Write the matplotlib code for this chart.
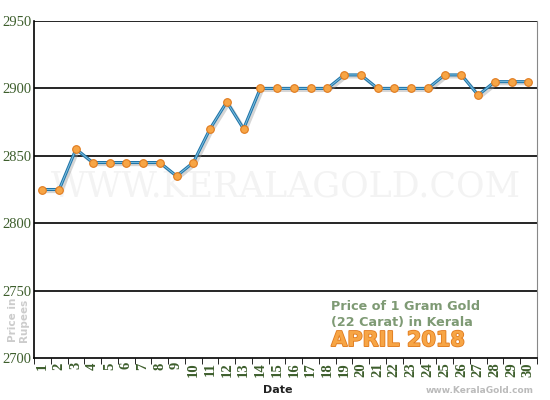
import matplotlib.pyplot as plt
import matplotlib.patheffects as pe

days = list(range(1, 31))
prices = [2825, 2825, 2855, 2845, 2845, 2845, 2845, 2845, 2835, 2845,
          2870, 2890, 2870, 2900, 2900, 2900, 2900, 2900, 2910, 2910,
          2900, 2900, 2900, 2900, 2910, 2910, 2895, 2905, 2905, 2905]
y_ticks = [2700, 2750, 2800, 2850, 2900, 2950]

green = '#3d5e2c'

fig = plt.figure(figsize=(5.5, 4), dpi=100)
ax = fig.add_axes([0.062, 0.105, 0.914, 0.8425])

# watermark
ax.text(0.5, 0.51, 'WWW.KERALAGOLD.COM', transform=ax.transAxes, ha='center', va='center',
        fontsize=25, family='DejaVu Serif', color='#f3f3f3', zorder=0)

for y in y_ticks[1:]:
    ax.axhline(y, color='black', lw=1.2, zorder=1)

shadow = [pe.SimpleLineShadow(offset=(1.5, -1.5), shadow_color='#999999', alpha=0.4), pe.Normal()]
ax.plot(days, prices, '-', color='#1f74a8', lw=2.2, zorder=3, path_effects=shadow)
ax.plot(days, prices, '-', color='#7fc0e0', lw=0.7, zorder=3)
ax.plot(days, prices, 'o', color='#f7a545', mec='#e07a1e', mew=0.8, ms=5.5, zorder=4)

ax.set_xlim(0.5, 30.5)
ax.set_ylim(2700, 2950)
ax.set_yticks(y_ticks)
ax.set_yticklabels([str(v) for v in y_ticks], family='Liberation Serif', color=green, fontsize=10.5)
ax.set_xticks(days)
ax.set_xticklabels([str(d) for d in days], rotation=90, family='Liberation Serif',
                   fontweight='bold', color=green, fontsize=10.5)
ax.set_xticks([d + 0.5 for d in range(0, 31)], minor=True)
ax.tick_params(axis='x', which='major', length=0, pad=3)
ax.tick_params(axis='x', which='minor', length=4, color='black', direction='out')
ax.tick_params(axis='y', length=0, pad=2)

ax.spines['top'].set_visible(False)
ax.spines['right'].set_color('#888888')
ax.spines['left'].set_color('black')
ax.spines['bottom'].set_color('black')
ax.spines['left'].set_linewidth(1.2)
ax.spines['bottom'].set_linewidth(1.2)

fig.text(0.505, 0.012, 'Date', ha='center', va='bottom', fontsize=8, fontweight='bold', color='#222222')
fig.text(0.015, 0.2, 'Price in\nRupees', rotation=90, ha='left', va='center', fontsize=7.5,
         fontweight='bold', color='#cccccc', linespacing=1.1)

ax.text(0.591, 0.172, 'Price of 1 Gram Gold\n(22 Carat) in Kerala', transform=ax.transAxes,
        ha='left', va='top', fontsize=9.2, fontweight='bold', color='#7e9a74', linespacing=1.25)
ax.text(0.591, 0.053, 'APRIL 2018', transform=ax.transAxes, ha='left', va='center', fontsize=15,
        fontweight='bold', color='#f7a545',
        path_effects=[pe.withStroke(linewidth=1.2, foreground='#e07a1e')])
fig.text(0.97, 0.012, 'www.KeralaGold.com', ha='right', va='bottom', fontsize=6.5,
         fontweight='bold', color='#bbbbbb')

fig.savefig('out.png', dpi=100)
